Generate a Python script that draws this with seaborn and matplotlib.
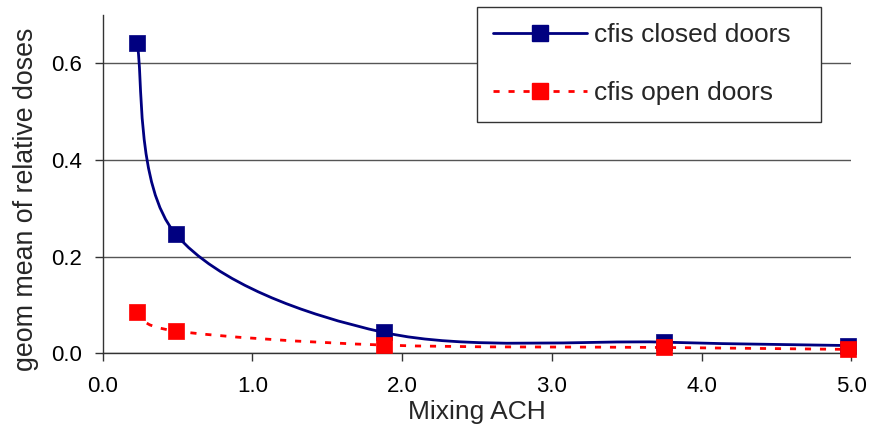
import numpy as np
import pandas as pd
import matplotlib
matplotlib.use("Agg")
import matplotlib.pyplot as plt
from matplotlib.path import Path
from matplotlib.patches import PathPatch
from matplotlib.lines import Line2D
from matplotlib.ticker import FormatStrFormatter
import seaborn as sns

# Data
ach = [0.23, 0.49, 1.88, 3.75, 4.98]
closed_doors = [0.643, 0.246, 0.043, 0.023, 0.016]
open_doors = [0.085, 0.046, 0.017, 0.012, 0.008]
series_names = ["cfis closed doors", "cfis open doors"]
x_ticks = [0, 1, 2, 3, 4, 5]
y_ticks = [0, 0.2, 0.4, 0.6]

navy = "#000080"
red = "#ff0000"

sns.set_theme(style="ticks")
plt.rcParams["font.family"] = ["Liberation Sans", "DejaVu Sans"]


# Excel-style smoothed line (Catmull-Rom as cubic bezier)
def smooth_path(xs, ys):
    p = np.column_stack([xs, ys])
    n = len(p)
    verts = [p[0]]
    codes = [Path.MOVETO]
    for i in range(n - 1):
        prev = p[max(i - 1, 0)]
        nxt = p[min(i + 2, n - 1)]
        c1 = p[i] + (p[i + 1] - prev) / 6
        c2 = p[i + 1] - (nxt - p[i]) / 6
        verts += [c1, c2, p[i + 1]]
        codes += [Path.CURVE4] * 3
    return Path(verts, codes)


df = pd.DataFrame({"ach": ach, "closed": closed_doors, "open": open_doors})

fig = plt.figure(figsize=(8.71, 4.29), dpi=100)
ax = fig.add_axes([0.1177, 0.1765, 0.8599, 0.7886])

dash = (0, (2.2, 3.2))
ax.add_patch(PathPatch(smooth_path(df["ach"], df["closed"]), fill=False,
                       edgecolor=navy, lw=2, zorder=3))
ax.add_patch(PathPatch(smooth_path(df["ach"], df["open"]), fill=False,
                       edgecolor=red, lw=2, linestyle=dash, zorder=3))

sns.scatterplot(data=df, x="ach", y="closed", marker="s", s=125, color=navy,
                edgecolor=navy, linewidth=0.5, ax=ax, zorder=4, clip_on=False)
sns.scatterplot(data=df, x="ach", y="open", marker="s", s=125, color=red,
                edgecolor=red, linewidth=0.5, ax=ax, zorder=5, clip_on=False)

ax.set_xlim(0, 5)
ax.set_ylim(0, 0.7)
ax.set_xticks(x_ticks)
ax.set_yticks(y_ticks)
ax.xaxis.set_major_formatter(FormatStrFormatter("%.1f"))
ax.yaxis.set_major_formatter(FormatStrFormatter("%.1f"))
ax.tick_params(axis="both", labelsize=16, length=6, width=1, color="#333333",
               labelcolor="black")
ax.tick_params(axis="x", pad=10.5)
ax.tick_params(axis="y", pad=9)

ax.yaxis.grid(True, color="#555555", lw=1)
ax.set_axisbelow(True)
sns.despine(ax=ax)
for side in ["left", "bottom"]:
    ax.spines[side].set_color("#333333")
    ax.spines[side].set_linewidth(1)

ax.set_xlabel("Mixing ACH", fontsize=19)
ax.set_ylabel("geom mean of relative doses", fontsize=19.3)
ax.xaxis.set_label_coords(0.5, -0.1395)
ax.yaxis.set_label_coords(-0.0854, 0.456)

handles = [
    Line2D([0], [0], color=navy, lw=2, marker="s", ms=11, mec=navy),
    Line2D([0], [0], color=red, lw=2, ls=dash, marker="s", ms=11, mec=red),
]
leg = fig.legend(handles, series_names, loc="upper left",
                 bbox_to_anchor=(0.5476, 0.718, 0.395, 0.2657), mode="expand",
                 fontsize=19, frameon=True, fancybox=False, framealpha=1,
                 edgecolor="#333333", borderpad=0.62, labelspacing=1.29,
                 handlelength=3.55, handletextpad=0.25, borderaxespad=0)
leg.get_frame().set_linewidth(1)

fig.savefig("out.png", dpi=100)
